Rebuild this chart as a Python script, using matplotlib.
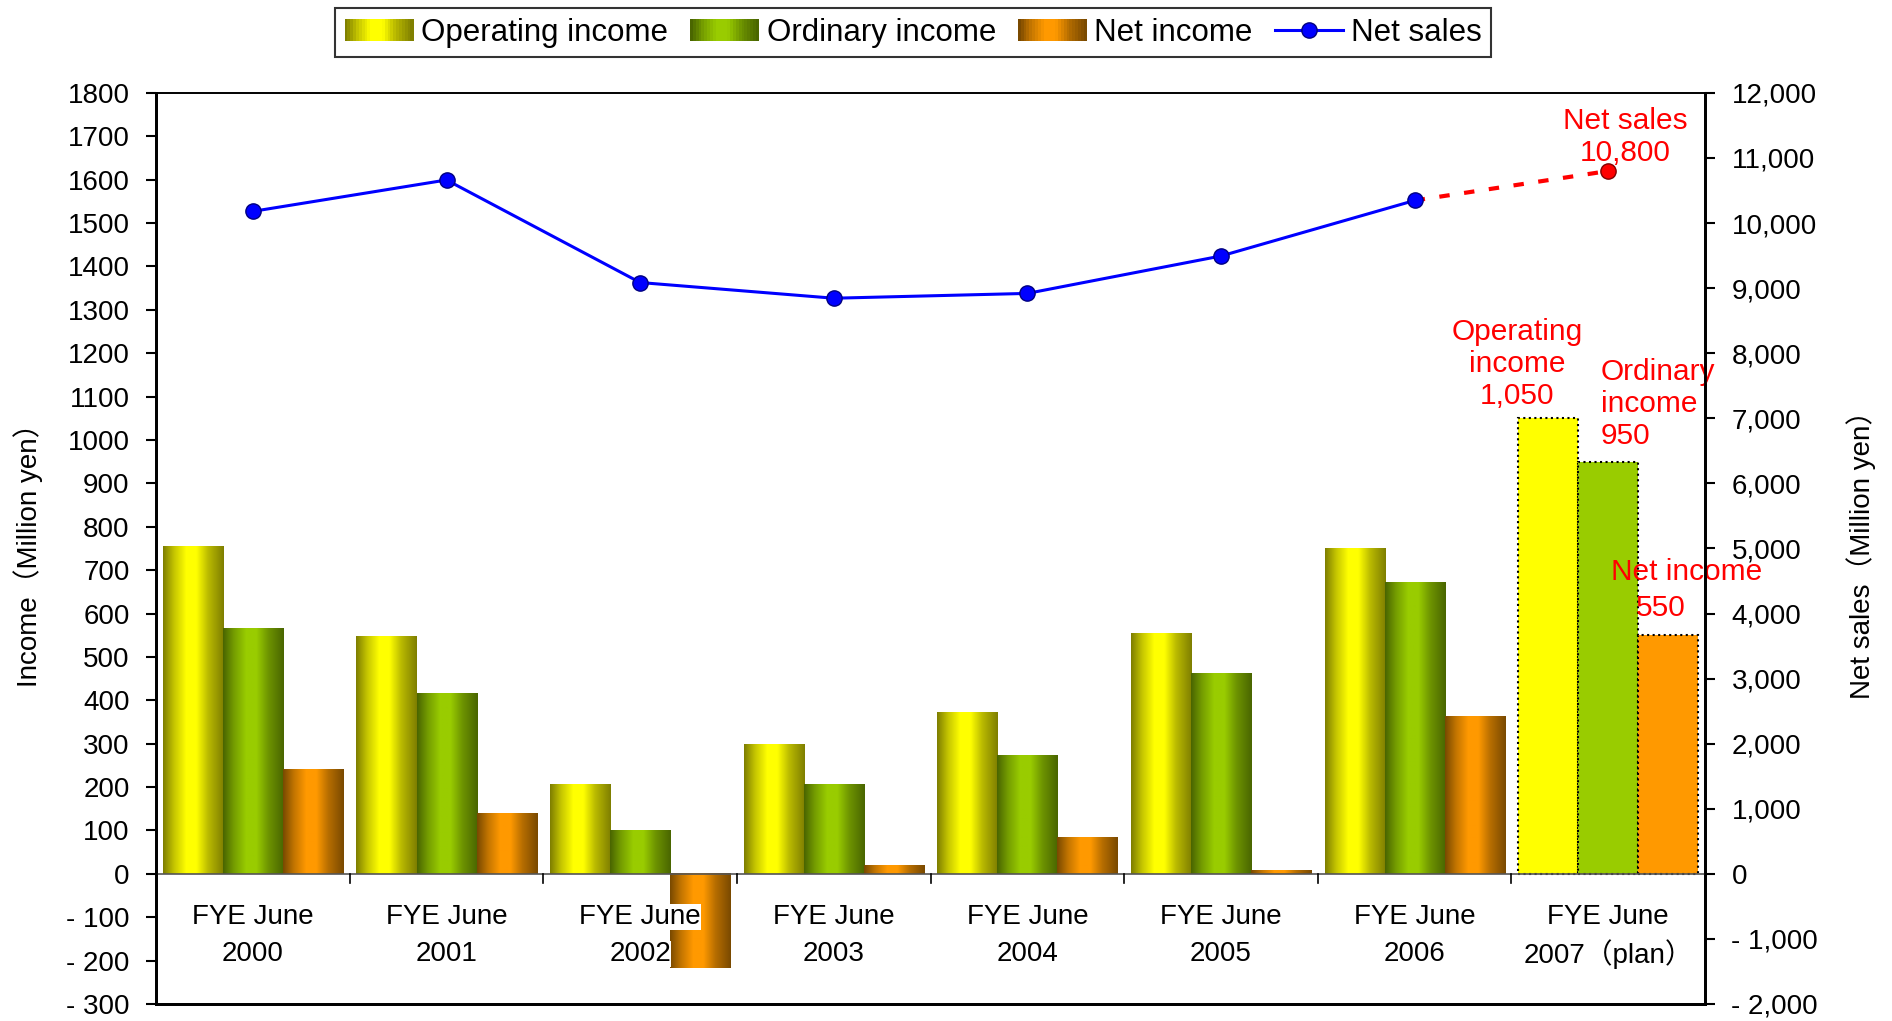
import numpy as np
import matplotlib
matplotlib.use('Agg')
import matplotlib.pyplot as plt
from matplotlib.patches import Rectangle
from matplotlib.legend_handler import HandlerBase
from matplotlib.lines import Line2D
from matplotlib.ticker import FuncFormatter, MultipleLocator

plt.rcParams['font.family'] = ['Liberation Sans', 'Noto Sans CJK JP', 'DejaVu Sans']

# data
years = ['2000', '2001', '2002', '2003', '2004', '2005', '2006', '2007（plan）']
operating_income = [754, 548, 206, 298, 373, 554, 751, 1050]
ordinary_income = [565, 417, 100, 206, 273, 462, 673, 950]
net_income = [242, 139, -217, 19, 83, 8, 362, 550]
net_sales = [10180, 10662, 9086, 8845, 8919, 9494, 10347, 10800]

series_names = ['Operating income', 'Ordinary income', 'Net income']
bright = [(1.0, 1.0, 0.0), (0.60, 0.80, 0.0), (1.0, 0.60, 0.0)]
dark = [(0.50, 0.50, 0.0), (0.29, 0.40, 0.0), (0.48, 0.29, 0.0)]

prof_x = [0.0, 0.18, 0.38, 0.55, 0.75, 1.0]
prof_t = [0.0, 0.55, 1.0, 1.0, 0.45, 0.0]


def gradient(i, n=64):
    t = np.interp(np.linspace(0, 1, n), prof_x, prof_t)
    b = np.array(bright[i]); d = np.array(dark[i])
    return d[None, :] * (1 - t[:, None]) + b[None, :] * t[:, None]


class GradHandler(HandlerBase):
    def __init__(self, idx):
        super().__init__()
        self.idx = idx

    def create_artists(self, legend, orig, xd, yd, w, h, fs, trans):
        cols = gradient(self.idx, 24)
        arts = []
        for k, c in enumerate(cols):
            r = Rectangle((xd + k * w / len(cols), yd), w / len(cols) + 0.3, h,
                          facecolor=c, edgecolor='none', transform=trans)
            arts.append(r)
        return arts


def fmt_left(v, p):
    return '- %d' % -v if v < 0 else '%d' % v


def fmt_right(v, p):
    return '- {:,.0f}'.format(-v) if v < 0 else '{:,.0f}'.format(v)


fig = plt.figure(figsize=(18.92, 10.21), dpi=100)
ax = fig.add_axes([0.0825, 0.0167, 0.8187, 0.8923])
ax2 = ax.twinx()

x = np.arange(len(years))
w = 0.31
all_vals = [operating_income, ordinary_income, net_income]
n_hist = len(years) - 1
for i, vals in enumerate(all_vals):
    off = (i - 1) * w
    bars = ax.bar(x[:n_hist] + off, vals[:n_hist], width=w, color='none', zorder=2)
    for p in bars.patches:
        x0, y0 = p.get_x(), p.get_y()
        x1, y1 = x0 + p.get_width(), y0 + p.get_height()
        ax.imshow(gradient(i)[None, :, :], extent=(x0, x1, min(y0, y1), max(y0, y1)),
                  aspect='auto', interpolation='bilinear', zorder=2)
    ax.bar(x[n_hist:] + off, vals[n_hist:], width=w, color=bright[i],
           edgecolor='black', linestyle=':', linewidth=1.5, zorder=2)

ax.set_xlim(-0.5, len(years) - 0.5)
ax.set_ylim(-300, 1800)
ax.yaxis.set_major_locator(MultipleLocator(100))
ax.yaxis.set_major_formatter(FuncFormatter(fmt_left))
ax.set_xticks([])
ax.axhline(0, color='#555555', lw=1.2, zorder=3)
for b in np.arange(0.5, len(years) - 1, 1.0):
    ax.plot([b, b], [0, -22], color='black', lw=1.2, zorder=3)
for i, yr in enumerate(years):
    ax.text(i, -100, 'FYE June', ha='center', va='center', fontsize=20, zorder=4,
            bbox=dict(facecolor='white', edgecolor='none', pad=0))
    ax.text(i, -184, yr, ha='center', va='center', fontsize=20, zorder=4,
            bbox=dict(facecolor='white', edgecolor='none', pad=0))

# net sales line
ax2.plot(x[:n_hist], net_sales[:n_hist], color='#0000ff', lw=2.2, marker='o', ms=11,
         markerfacecolor='#0000ff', markeredgecolor='#000080', zorder=5)
ax2.plot(x[n_hist - 1:], net_sales[n_hist - 1:], color='red', lw=3, ls=(0, (2.5, 3.5)), zorder=4)
ax2.plot(x[n_hist:], net_sales[n_hist:], 'o', color='red', ms=11, markeredgecolor='#800000', zorder=5)
ax2.set_ylim(-2000, 12000)
ax2.yaxis.set_major_locator(MultipleLocator(1000))
ax2.yaxis.set_major_formatter(FuncFormatter(fmt_right))

for a in (ax, ax2):
    a.tick_params(axis='y', direction='out', length=7, width=1.5, labelsize=20, pad=12)
    a.spines['top'].set_linewidth(1.2)
    a.spines['bottom'].set_linewidth(2)
    a.spines['left'].set_linewidth(2)
    a.spines['right'].set_linewidth(2)

ax.set_ylabel('Income（Million yen）', fontsize=20, labelpad=17)
ax2.set_ylabel('Net sales（Million yen）', fontsize=20, labelpad=20)

# plan annotations
red = '#ff0000'
fs = 21.5
ax2.text(x[7] + 0.09, net_sales[7] + 60, 'Net sales\n10,800', color=red, fontsize=fs,
         ha='center', va='bottom', linespacing=1.2, zorder=6)
ax.text(x[7] - w - 0.16, operating_income[7] + 18, 'Operating\nincome\n1,050', color=red, fontsize=fs,
        ha='center', va='bottom', linespacing=1.2, zorder=6)
ax.text(x[7] - 0.04, ordinary_income[7] + 26, 'Ordinary\nincome\n950', color=red, fontsize=fs,
        ha='left', va='bottom', linespacing=1.2, zorder=6)
ax.text(x[7] + w + 0.094, net_income[7] + 113, 'Net income', color=red, fontsize=fs,
        ha='center', va='bottom', zorder=6)
ax.text(x[7] + w - 0.04, net_income[7] + 30, '550', color=red, fontsize=fs,
        ha='center', va='bottom', zorder=6)
for t in ax.texts[-4:] + ax2.texts[-1:]:
    t.set_clip_on(False)

handles = [Rectangle((0, 0), 1, 1) for _ in series_names]
handles.append(Line2D([], [], color='#0000ff', lw=2.2, marker='o', ms=11,
                      markerfacecolor='#0000ff', markeredgecolor='#000080'))
leg = fig.legend(handles, series_names + ['Net sales'], loc='center', bbox_to_anchor=(0.4827, 0.968),
                 ncol=4, fontsize=22.5, frameon=True, fancybox=False, edgecolor='black',
                 handlelength=2.2, handletextpad=0.25, columnspacing=0.7, borderpad=0.3,
                 handler_map={handles[0]: GradHandler(0), handles[1]: GradHandler(1),
                              handles[2]: GradHandler(2)})
leg.get_frame().set_linewidth(1.5)

plt.savefig('out.png', dpi=100)
